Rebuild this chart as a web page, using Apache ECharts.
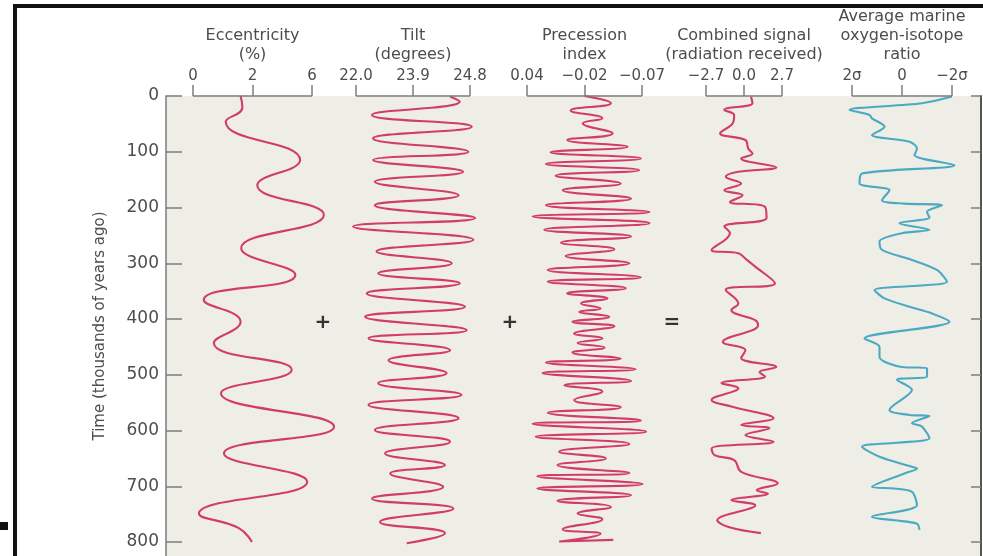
<!DOCTYPE html>
<html>
<head>
<meta charset="utf-8">
<script src="https://cdn.jsdelivr.net/npm/echarts@6/dist/echarts.min.js"></script>
<style>
html,body{margin:0;padding:0;background:#fff;}
#c{width:983px;height:556px;}
</style>
</head>
<body>
<div id="c"></div>
<script>
// ---- Data (time in thousands of years ago) ----
// Eccentricity / Tilt / Precession: horizontal position in tick units (-1 = left tick, 0 = middle tick, 1 = right tick)
var eccTicks = ['0', '2', '6'];
var eccTime = [0, 20, 46, 115, 160, 213, 273, 321, 366, 405, 443, 491, 533, 593, 641, 692, 749, 775, 800];
var eccPos = [-0.2, -0.17, -0.45, 0.8, 0.08, 1.2, -0.19, 0.72, -0.82, -0.2, -0.65, 0.66, -0.53, 1.37, -0.48, 0.92, -0.9, -0.23, -0.01];

var tiltTicks = ['22.0', '23.9', '24.8'];
var tiltTime = [1, 10, 34, 55, 76, 100, 115, 136, 154, 178, 196, 219, 234, 258, 279, 300, 318, 336, 354, 378, 396, 420, 435, 456, 474, 497, 515, 536, 554, 578, 599, 620, 641, 662, 677, 701, 722, 740, 764, 784, 802];
var tiltPos = [0.65, 0.82, -0.72, 1.03, -0.7, 0.97, -0.7, 0.88, -0.67, 0.8, -0.67, 1.09, -1.05, 1.06, -0.64, 0.68, -0.61, 0.82, -0.81, 0.91, -0.84, 0.94, -0.78, 0.65, -0.43, 0.59, -0.61, 0.85, -0.78, 0.8, -0.67, 0.65, -0.49, 0.56, -0.4, 0.53, -0.72, 0.71, -0.58, 0.56, -0.11];

var precTicks = ['0.04', '\u22120.02', '\u22120.07'];
var precTime = [0, 13, 26, 40, 49, 67, 79, 91, 101, 112, 122, 133, 143, 157, 169, 184, 196, 208, 216, 228, 240, 252, 263, 275, 287, 300, 312, 325, 333, 345, 354, 363, 372, 381, 387, 396, 405, 413, 426, 435, 443, 451, 460, 471, 478, 490, 497, 511, 519, 530, 545, 558, 568, 582, 588, 602, 611, 624, 638, 650, 662, 676, 682, 696, 704, 716, 726, 737, 749, 759, 777, 785, 799, 796];
var precPos = [0, 0.46, -0.24, 0.31, -0.03, 0.49, -0.3, 0.75, -0.59, 0.98, -0.67, 0.95, -0.5, 0.63, -0.38, 0.81, -0.67, 1.13, -0.9, 1.13, -0.7, 0.81, -0.41, 0.52, -0.33, 0.78, -0.64, 0.98, -0.64, 0.72, -0.3, 0.4, -0.06, 0.28, -0.09, 0.43, -0.21, 0.52, -0.18, 0.31, -0.12, 0.35, -0.21, 0.63, -0.67, 0.89, -0.73, 0.81, -0.35, 0.31, -0.18, 0.63, -0.64, 0.98, -0.9, 1.07, -0.85, 0.78, -0.44, 0.37, -0.47, 0.78, -0.82, 1.01, -0.82, 0.81, -0.47, 0.46, -0.12, 0.31, -0.38, 0.28, -0.44, 0.5];

// Combined signal (radiation received), ticks at -2.7, 0.0, 2.7
var combTicks = [-2.7, 0, 2.7];
var combTime = [1, 13, 25, 34, 49, 67, 79, 94, 103, 112, 128, 136, 145, 157, 169, 178, 190, 199, 219, 234, 246, 276, 282, 294, 306, 336, 348, 372, 384, 402, 411, 441, 456, 470, 486, 495, 503, 515, 524, 545, 557, 578, 590, 596, 608, 620, 632, 644, 653, 674, 695, 707, 713, 725, 734, 761, 773, 784];
var combVal = [0.5, 0.6, -1.4, -0.7, -0.8, -1.7, 0.1, 0.3, 0.6, -0.2, 2.3, -0.4, -1.3, -0.2, -1.4, -0.1, -1.0, 1.5, 1.6, -1.4, -1.0, -2.3, -0.4, 0.2, 0.8, 2.2, -1.3, -0.4, -0.9, 0.8, 1.0, -1.5, 0.1, -0.2, 2.3, 1.1, 1.5, -1.6, -0.4, -2.3, -0.9, 2.1, -0.2, 1.8, 0.1, 2.1, -2.3, -2.1, -0.7, -0.2, 2.4, 0.9, 1.7, -0.9, 0.8, -1.9, -1.1, 1.2];

// Average marine oxygen-isotope ratio, in sigma (2σ on the left, −2σ on the right)
var isoTicks = [2, 0, -2];
var isoTime = [1, 13, 25, 34, 40, 55, 70, 82, 94, 106, 124, 139, 157, 169, 187, 193, 196, 208, 218, 228, 240, 246, 261, 276, 294, 312, 333, 348, 363, 378, 390, 405, 435, 450, 468, 486, 488, 503, 509, 527, 563, 572, 574, 587, 593, 614, 629, 647, 665, 668, 677, 701, 704, 710, 734, 755, 761, 767, 778];
var isoVal = [-2.0, -0.8, 2.1, 1.3, 1.2, 0.7, 1.2, -0.3, -0.6, -0.5, -2.1, 1.6, 1.7, 0.5, 0.8, -0.1, -1.6, -1.0, -1.1, 0.1, -1.1, 0.0, 0.9, 0.8, -0.4, -1.4, -1.8, 1.1, 0.7, -0.3, -1.2, -1.9, 1.5, 0.9, 0.9, 0.0, -1.0, -1.0, 0.2, -0.4, 0.5, -0.3, -1.1, -0.4, -0.8, -1.1, 1.6, 0.9, -0.4, -0.6, -0.1, 1.2, 0.3, -0.4, -0.6, 1.2, 0.3, -0.6, -0.7];

var timeTicks = [0, 100, 200, 300, 400, 500, 600, 700, 800];
var panelTitles = ['Eccentricity\n(%)', 'Tilt\n(degrees)', 'Precession\nindex', 'Combined signal\n(radiation received)', 'Average marine\noxygen-isotope\nratio'];
var timeName = 'Time (thousands of years ago)';

// ---- Chart ----
var FONT = 'DejaVu Sans';
var AX = '#7d7d7d';
var TXT = '#4d4d4d';
var RED = '#d23c68';
var BLUE = '#4aa9c3';
var YMAX = 825;

function pairs(t, v) { return t.map(function (tt, i) { return [v[i], tt]; }); }
function fmtComb(v) {
  if (Math.abs(v) < 1e-6) return '0.0';
  return (v < 0 ? '\u2212' : '') + Math.abs(v).toFixed(1);
}
function fmtIso(v) {
  if (Math.abs(v) < 1e-6) return '0';
  return (v < 0 ? '\u2212' : '') + '2\u03c3';
}
function idxFmt(arr) { return function (v) { return arr[Math.round(v) + 1]; }; }

// lo / hi: pixel positions of the outer ticks of each bracket; ext: visible half-range in axis units
var panels = [
  { lo: 193, hi: 312, ticks: [-1, 0, 1], half: 1, ext: 1.7, fmt: idxFmt(eccTicks), t: eccTime, v: eccPos, color: RED, smooth: 0.5 },
  { lo: 356, hi: 470, ticks: [-1, 0, 1], half: 1, ext: 1.7, fmt: idxFmt(tiltTicks), t: tiltTime, v: tiltPos, color: RED, smooth: 0.5 },
  { lo: 527, hi: 642, ticks: [-1, 0, 1], half: 1, ext: 1.7, fmt: idxFmt(precTicks), t: precTime, v: precPos, color: RED, smooth: 0.5 },
  { lo: 706, hi: 782, ticks: combTicks, half: 2.7, ext: 4.5, fmt: fmtComb, t: combTime, v: combVal, color: RED, smooth: 0.4 },
  { lo: 852, hi: 952, ticks: isoTicks, half: 2, ext: 3, inverse: true, fmt: fmtIso, t: isoTime, v: isoVal, color: BLUE, smooth: 0.3 }
];

var grids = [{ left: 166, right: 2, top: 96, height: 460, show: true, backgroundColor: '#efeee6', borderWidth: 0 }];
var xAxes = [{ gridIndex: 0, type: 'value', show: false, min: 0, max: 1 }];
var yAxes = [
  {
    gridIndex: 0, type: 'value', min: 0, max: YMAX, interval: 100, inverse: true, position: 'left',
    name: timeName, nameLocation: 'middle', nameGap: 58,
    nameTextStyle: { fontFamily: FONT, fontSize: 15, color: TXT },
    axisLine: { show: true, lineStyle: { color: AX, width: 1.5 } },
    axisTick: { show: true, inside: true, length: 16, customValues: timeTicks, lineStyle: { color: AX, width: 1.5 } },
    axisLabel: { show: true, margin: 7, customValues: timeTicks, fontFamily: FONT, fontSize: 17, color: TXT,
      formatter: function (v) { return (v % 100 === 0) ? String(v) : ''; } },
    splitLine: { show: false }
  },
  {
    gridIndex: 0, type: 'value', min: 0, max: YMAX, interval: 100, inverse: true, position: 'right',
    axisLine: { show: true, lineStyle: { color: '#555', width: 2 } },
    axisTick: { show: true, inside: true, length: 10, customValues: timeTicks, lineStyle: { color: AX, width: 1.5 } },
    axisLabel: { show: false },
    splitLine: { show: false }
  }
];
var series = [];

panels.forEach(function (p, i) {
  var gi = i + 1;
  var center = (p.lo + p.hi) / 2;
  var pxPerUnit = (p.hi - p.lo) / (2 * p.half);
  grids.push({ left: center - p.ext * pxPerUnit, width: 2 * p.ext * pxPerUnit, top: 96, height: 460 });
  xAxes.push({
    gridIndex: gi, type: 'value', position: 'top', min: -p.ext, max: p.ext, inverse: !!p.inverse,
    name: panelTitles[i], nameLocation: 'middle', nameGap: 31,
    nameTextStyle: { fontFamily: FONT, fontSize: 16, lineHeight: 19, color: TXT, align: 'center' },
    axisLine: { show: false },
    axisTick: { show: true, length: 11, customValues: p.ticks, lineStyle: { color: AX, width: 1.5 } },
    axisLabel: { show: true, margin: 12, customValues: p.ticks, fontFamily: FONT, fontSize: 15, color: TXT, formatter: p.fmt },
    splitLine: { show: false }
  });
  yAxes.push({ gridIndex: gi, type: 'value', min: 0, max: YMAX, inverse: true, show: false });
  series.push({
    type: 'line', xAxisIndex: gi, yAxisIndex: gi + 1, data: pairs(p.t, p.v),
    showSymbol: false, symbol: 'none', smooth: p.smooth, clip: false, silent: true,
    lineStyle: { color: p.color, width: 2.1 },
    markLine: {
      silent: true, symbol: ['none', 'none'], label: { show: false },
      lineStyle: { color: AX, width: 1.5, type: 'solid' },
      emphasis: { disabled: true },
      data: [[{ coord: [p.ticks[0], 0] }, { coord: [p.ticks[2], 0] }]]
    }
  });
});

var chart = echarts.init(document.getElementById('c'), null, { renderer: 'canvas' });
chart.setOption({
  animation: false,
  backgroundColor: '#ffffff',
  grid: grids,
  xAxis: xAxes,
  yAxis: yAxes,
  series: series,
  graphic: [
    { type: 'rect', shape: { x: 13, y: 4, width: 970, height: 4 }, style: { fill: '#111' } },
    { type: 'rect', shape: { x: 13, y: 4, width: 4, height: 552 }, style: { fill: '#111' } },
    { type: 'rect', shape: { x: 0, y: 522, width: 8, height: 8 }, style: { fill: '#111' } },
    { type: 'text', x: 323, y: 323, style: { text: '+', fontFamily: FONT, fontSize: 20, fontWeight: 'bold', fill: '#333', align: 'center', verticalAlign: 'middle' } },
    { type: 'text', x: 510, y: 323, style: { text: '+', fontFamily: FONT, fontSize: 20, fontWeight: 'bold', fill: '#333', align: 'center', verticalAlign: 'middle' } },
    { type: 'text', x: 672, y: 323, style: { text: '=', fontFamily: FONT, fontSize: 20, fontWeight: 'bold', fill: '#333', align: 'center', verticalAlign: 'middle' } }
  ]
});
</script>
</body>
</html>
